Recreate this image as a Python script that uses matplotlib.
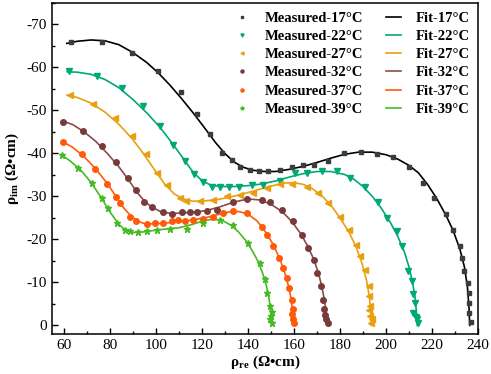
import numpy as np
import matplotlib
matplotlib.use('Agg')
import matplotlib.pyplot as plt
from matplotlib.ticker import MultipleLocator

plt.rcParams['font.family'] = ['Liberation Serif', 'DejaVu Serif']
plt.rcParams['mathtext.fontset'] = 'custom'
plt.rcParams['mathtext.rm'] = 'Liberation Serif:bold'
plt.rcParams['mathtext.bf'] = 'Liberation Serif:bold'
plt.rcParams['axes.unicode_minus'] = False

x17 = [63.1, 76.6, 89.9, 100.9, 110.8, 117.8, 123.6, 128.6, 132.9, 136.8, 141.0, 145.0, 148.8, 154.0, 159.1,
       164.1, 168.8, 175.0, 181.9, 189.0, 196.0, 202.9, 210.1, 216.0, 220.9, 226.1, 229.0, 231.9, 232.9, 233.9,
       235.4, 235.8, 236.1, 236.2, 236.8]
y17 = [-65.9, -65.9, -63.4, -59.2, -54.2, -49.1, -44.6, -40.0, -38.4, -36.9, -36.1, -35.9, -35.9, -36.2, -36.9,
       -37.2, -37.4, -38.2, -40.0, -40.3, -39.9, -39.2, -36.9, -33.2, -29.7, -26.0, -22.3, -18.4, -15.7, -12.6,
       -9.9, -7.6, -5.3, -2.9, -0.8]

x22 = [62.4, 74.4, 85.3, 94.6, 101.9, 107.7, 112.8, 116.7, 120.7, 124.3, 127.9, 132.0, 136.3, 141.7, 146.7,
       154.0, 160.5, 165.6, 172.1, 178.6, 184.4, 190.9, 196.7, 200.6, 204.7, 206.8, 209.7, 211.2, 211.9, 212.6,
       211.9, 213.3, 213.7, 212.8]
y22 = [-59.1, -58.0, -55.2, -51.0, -46.4, -42.0, -38.3, -35.2, -33.4, -32.3, -32.1, -32.1, -32.2, -32.7, -32.7,
       -33.5, -35.4, -35.4, -35.8, -35.8, -34.2, -32.1, -28.8, -25.0, -21.9, -18.4, -12.6, -10.3, -7.2, -5.3,
       -2.9, -1.4, -0.6, -2.0]

x27 = [62.8, 72.9, 82.4, 89.6, 95.7, 100.5, 104.8, 110.6, 113.2, 119.3, 125.0, 130.9, 136.6, 142.4, 148.2,
       154.0, 159.1, 165.6, 170.6, 175.0, 180.1, 184.1, 187.0, 188.7, 190.9, 192.4, 192.8, 193.1, 193.1, 193.4,
       192.6, 193.8]
y27 = [-53.5, -51.6, -48.3, -44.0, -39.9, -35.4, -32.7, -29.6, -29.0, -29.0, -29.2, -30.0, -30.4, -30.9, -31.9,
       -32.9, -32.9, -32.3, -30.9, -28.4, -25.3, -22.3, -18.8, -16.1, -13.0, -9.1, -6.8, -4.5, -2.2, -0.6,
       -3.5, -1.5]

x32 = [59.9, 68.6, 76.6, 82.8, 87.9, 91.6, 94.7, 98.3, 103.3, 106.9, 111.3, 114.9, 117.8, 122.2, 126.5,
       133.7, 139.5, 146.1, 149.7, 154.7, 159.8, 163.4, 166.3, 168.5, 170.2, 171.7, 172.6, 173.1, 174.0, 175.0,
       173.5]
y32 = [-47.4, -45.2, -41.8, -38.1, -34.4, -31.4, -28.8, -27.5, -26.4, -26.0, -26.4, -26.4, -26.4, -26.7, -26.9,
       -28.8, -29.4, -29.2, -28.6, -26.9, -24.2, -21.1, -18.0, -15.3, -12.2, -9.1, -6.0, -3.7, -1.4, -0.6,
       -2.5]

x37 = [59.9, 67.9, 73.7, 78.8, 82.6, 84.7, 89.0, 91.5, 96.1, 99.7, 103.3, 107.0, 109.8, 112.8, 116.4,
       120.7, 125.0, 129.4, 133.7, 139.5, 146.1, 148.2, 151.1, 153.3, 155.4, 156.9, 158.0, 159.0, 159.5, 159.8,
       160.1, 159.3]
y37 = [-42.6, -39.9, -36.3, -32.9, -29.9, -28.4, -25.3, -24.2, -23.6, -23.8, -23.9, -24.2, -24.4, -24.3, -24.6,
       -24.7, -25.3, -26.1, -26.5, -26.1, -23.0, -21.1, -18.4, -15.7, -13.4, -11.1, -8.7, -6.0, -3.7, -1.4,
       -0.6, -2.6]

x39 = [59.2, 66.4, 72.2, 76.6, 79.4, 83.1, 86.7, 88.9, 92.5, 96.1, 100.5, 106.2, 113.5, 120.7, 127.9,
       133.7, 140.2, 145.2, 147.3, 148.5, 149.4, 150.0, 150.4, 149.8, 150.6]
y39 = [-39.6, -36.6, -33.1, -29.6, -27.3, -23.8, -22.3, -21.9, -21.7, -21.9, -22.3, -22.4, -22.4, -23.8, -24.6,
       -23.4, -19.2, -14.5, -10.7, -7.6, -4.5, -2.2, -0.6, -1.5, -3.0]

# Fitted curves
fx17 = [61.4, 66, 72, 78, 84, 90, 96, 101, 106, 111, 116, 121, 126, 130, 134, 138, 142, 147, 152, 158, 164,
        170, 176, 182, 188, 194, 200, 205, 210, 214, 218, 222, 226, 229, 232, 234, 235.3, 236.0, 236.3]
fy17 = [-65.6, -66.1, -66.4, -66.2, -65.3, -63.5, -61.2, -58.8, -56.0, -52.9, -49.6, -46.1, -42.5, -40.0, -38.0,
        -36.8, -36.1, -35.8, -35.8, -36.3, -37.0, -37.9, -38.9, -39.8, -40.3, -40.3, -39.7, -38.7, -37.2, -35.5,
        -32.8, -29.5, -25.6, -22.2, -17.8, -13.6, -9.0, -4.0, 0.0]

fx22 = [61.5, 66, 72, 78, 84, 90, 96, 102, 107, 112, 116, 120, 124, 128, 134, 140, 146, 152, 158, 164, 170,
        176, 182, 186, 190, 194, 198, 202, 205, 208, 210, 211.5, 212.6, 213.2, 213.5]
fy22 = [-59.0, -58.9, -58.4, -57.2, -55.3, -52.6, -49.5, -46.0, -42.5, -38.8, -35.8, -33.7, -32.6, -32.3, -32.3,
        -32.5, -32.9, -33.6, -34.5, -35.3, -35.8, -35.8, -35.1, -34.0, -32.3, -30.0, -27.2, -23.8, -20.8, -17.0,
        -13.5, -10.0, -6.5, -3.0, 0.0]

fx27 = [61.5, 66, 72, 78, 84, 90, 95, 100, 104, 108, 112, 116, 120, 126, 132, 138, 144, 150, 156, 160, 164,
        168, 172, 176, 180, 184, 187, 189.5, 191.5, 192.8, 193.4, 193.6]
fy27 = [-53.6, -53.0, -51.7, -49.6, -46.8, -43.3, -39.7, -35.8, -32.8, -30.6, -29.4, -28.9, -28.9, -29.2, -29.8,
        -30.6, -31.5, -32.4, -33.1, -33.2, -32.8, -31.8, -30.2, -28.0, -25.0, -21.6, -18.2, -14.5, -10.5, -6.5,
        -3.0, 0.0]

fx32 = [59.8, 64, 69, 74, 79, 84, 88, 92, 95, 98, 102, 106, 110, 116, 122, 128, 134, 140, 145, 150, 155,
        159, 163, 166, 168.5, 170.5, 172, 173.2, 174, 174.3]
fy32 = [-47.5, -46.7, -45.0, -42.8, -40.0, -36.9, -34.0, -30.9, -29.0, -27.6, -26.5, -26.1, -26.1, -26.3, -26.7,
        -27.6, -28.7, -29.4, -29.2, -28.2, -26.4, -24.2, -21.3, -18.4, -15.5, -12.4, -9.3, -6.0, -3.0, 0.0]

fx37 = [59.5, 64, 69, 74, 79, 83, 86, 89, 92, 95, 99, 104, 110, 116, 122, 128, 132, 136, 140, 144, 148,
        151, 154, 156, 157.5, 158.7, 159.5, 160.0]
fy37 = [-42.8, -41.4, -39.2, -36.4, -33.0, -29.8, -27.4, -25.6, -24.3, -23.7, -23.6, -23.8, -24.1, -24.5, -25.1,
        -25.9, -26.4, -26.5, -25.9, -24.3, -21.5, -18.8, -15.3, -12.3, -9.4, -6.4, -3.2, 0.0]

fx39 = [59.0, 63, 68, 72, 76, 80, 84, 87, 90, 94, 98, 104, 110, 116, 121, 125, 129, 133, 136, 139, 142,
        144.5, 146.5, 148, 149.2, 150.0, 150.4]
fy39 = [-39.7, -38.2, -35.8, -33.2, -30.0, -26.5, -23.5, -22.1, -21.6, -21.7, -22.0, -22.4, -22.7, -23.5, -24.4,
        -24.7, -24.4, -23.2, -21.7, -19.8, -17.3, -14.8, -12.0, -9.3, -6.2, -3.0, 0.0]

temps = ['17', '22', '27', '32', '37', '39']
meas = [(x17, y17), (x22, y22), (x27, y27), (x32, y32), (x37, y37), (x39, y39)]
fits = [(fx17, fy17), (fx22, fy22), (fx27, fy27), (fx32, fy32), (fx37, fy37), (fx39, fy39)]
mcolors = ['#3c3c3c', '#00a878', '#e8a010', '#7a3a3a', '#ff5a0a', '#44bb22']
lcolors = ['#000000', '#00a878', '#e8a010', '#8a4b4b', '#ff5a0a', '#44bb22']
markers = ['s', 'v', '<', 'o', 'o', '*']
msizes = [3.5, 4.0, 4.0, 4.0, 4.0, 5.0]

fig = plt.figure(figsize=(4.91, 3.74), dpi=100)
ax = fig.add_axes([0.106, 0.107, 0.868, 0.885])

mh = []
fh = []
for i in range(6):
    l, = ax.plot(fits[i][0], fits[i][1], '-', color=lcolors[i], lw=1.2, zorder=2,
                 label='Fit-' + temps[i] + '°C')
    fh.append(l)
for i in range(6):
    m, = ax.plot(meas[i][0], meas[i][1], ls='none', marker=markers[i], ms=msizes[i],
                 color=mcolors[i], mec=mcolors[i], zorder=3, label='Measured-' + temps[i] + '°C')
    mh.append(m)

ax.set_xlim(55, 240)
ax.set_ylim(2, -75)
ax.xaxis.set_major_locator(MultipleLocator(20))
ax.xaxis.set_minor_locator(MultipleLocator(10))
ax.yaxis.set_major_locator(MultipleLocator(10))
ax.yaxis.set_minor_locator(MultipleLocator(5))
ax.tick_params(which='both', direction='in', top=False, right=False, labelsize=11)
ax.tick_params(which='major', length=4, width=1)
ax.tick_params(which='minor', length=2.5, width=1)
for s in ax.spines.values():
    s.set_linewidth(1.1)

ax.set_xlabel(r'ρ$_{\mathrm{re}}$ (Ω•cm)', fontsize=11, fontweight='bold', labelpad=1)
ax.set_ylabel(r'ρ$_{\mathrm{im}}$ (Ω•cm)', fontsize=11, fontweight='bold', labelpad=4)

ax.legend(mh + fh, [h.get_label() for h in mh + fh], ncol=2, loc='upper right',
          bbox_to_anchor=(1.0, 1.0), frameon=False, markerscale=0.55, handlelength=1.0,
          columnspacing=1.6, handletextpad=1.0, labelspacing=0.34, borderaxespad=0.2,
          prop={'family': 'Liberation Serif', 'weight': 'bold', 'size': 10.5})

fig.savefig('out.png', dpi=100)
